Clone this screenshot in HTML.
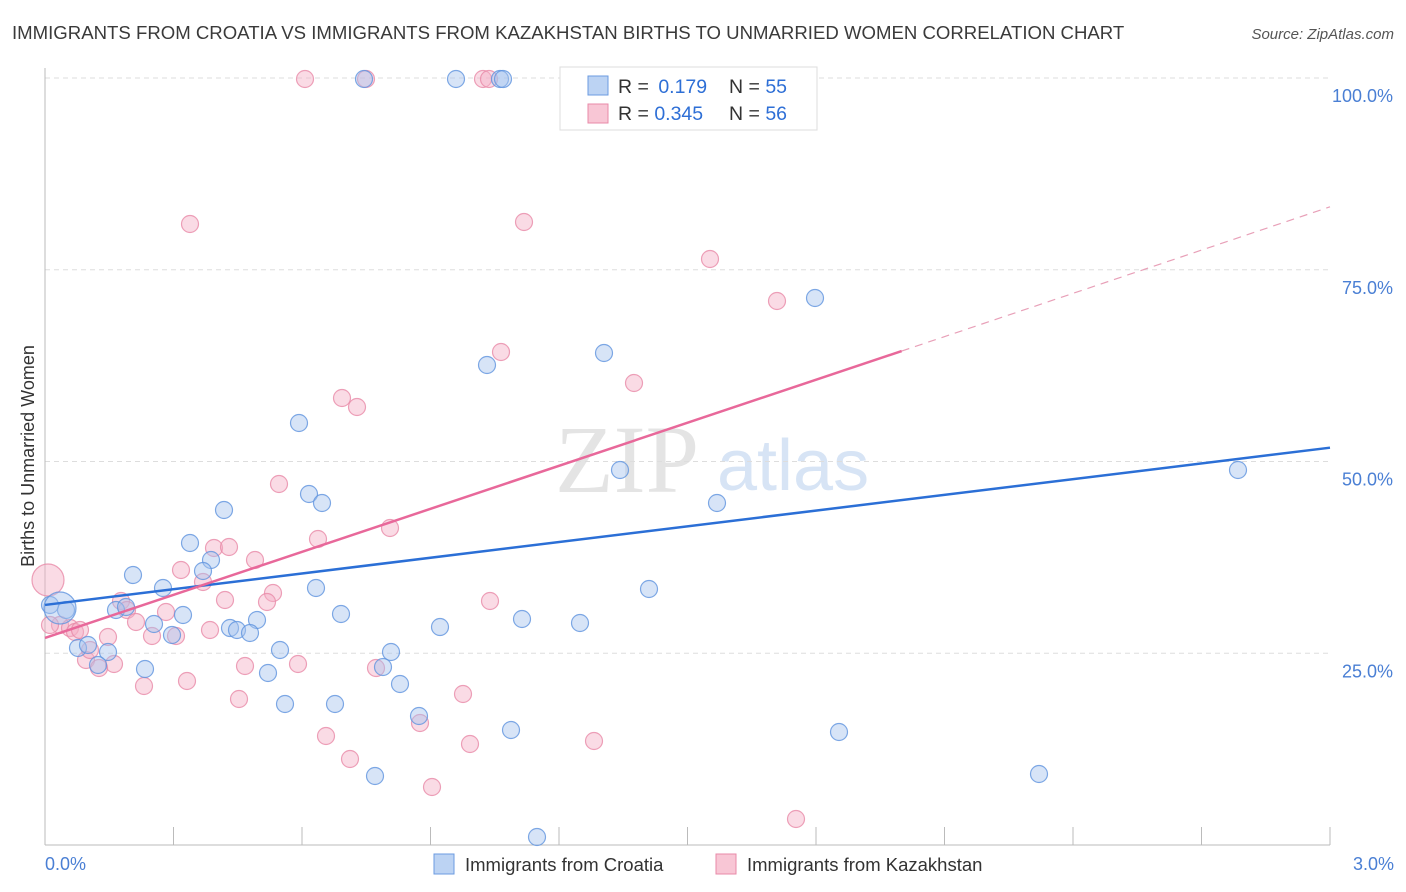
<!DOCTYPE html>
<html><head><meta charset="utf-8"><style>
body{margin:0;background:#fff;font-family:"Liberation Sans",sans-serif;}
#wrap{position:relative;width:1406px;height:892px;overflow:hidden;}
</style></head><body>
<div id="wrap">
<svg id="svg" width="1406" height="892" xmlns="http://www.w3.org/2000/svg">
<text x="12" y="39" font-size="18.6" fill="#3a3a3a">IMMIGRANTS FROM CROATIA VS IMMIGRANTS FROM KAZAKHSTAN BIRTHS TO UNMARRIED WOMEN CORRELATION CHART</text>
<text x="1394" y="39" font-size="15" fill="#555" font-style="italic" text-anchor="end">Source: ZipAtlas.com</text>
<text transform="translate(34,456) rotate(-90)" font-size="18" fill="#333" text-anchor="middle">Births to Unmarried Women</text>
<text x="555" y="492" font-size="96" fill="#e4e4e4" font-family="Liberation Serif,serif">ZIP</text>
<text x="717" y="490" font-size="72" fill="#d7e4f5">atlas</text>
<g id="grid"></g><g id="pts"></g><g id="lines"></g>
<g>
<rect x="560" y="67" width="257" height="63" fill="#fff" stroke="#ddd"/>
<rect x="588" y="76" width="20" height="19" fill="#bcd3f3" stroke="#6b9be0"/>
<rect x="588" y="104" width="20" height="19" fill="#f8c6d5" stroke="#e88aa8"/>
<text x="618" y="93" font-size="19.5" fill="#333">R = <tspan fill="#2e6fd6" dx="4">0.179</tspan></text>
<text x="729" y="93" font-size="19.5" fill="#333">N = <tspan fill="#2e6fd6">55</tspan></text>
<text x="618" y="120" font-size="19.5" fill="#333">R = <tspan fill="#2e6fd6">0.345</tspan></text>
<text x="729" y="120" font-size="19.5" fill="#333">N = <tspan fill="#2e6fd6">56</tspan></text>
</g>
<g>
<rect x="434" y="854" width="20" height="20" fill="#bcd3f3" stroke="#6b9be0"/>
<text x="465" y="871" font-size="18.5" fill="#333">Immigrants from Croatia</text>
<rect x="716" y="854" width="20" height="20" fill="#f8c6d5" stroke="#e88aa8"/>
<text x="747" y="871" font-size="18.5" fill="#333">Immigrants from Kazakhstan</text>
</g>
</svg>
</div>
<script>
const NS="http://www.w3.org/2000/svg";
const yTicks=[25,50,75,100];
const yTickLabels=["25.0%","50.0%","75.0%","100.0%"];
const xTickLabels=["0.0%","3.0%"];
const blueX=[364,456,500,503,815,604,487,299,620,1238,309,322,717,224,190,211,133,203,163,316,649,183,116,126,341,257,230,237,250,154,172,522,580,440,66,50,78,88,108,280,391,98,145,268,383,400,285,335,419,511,839,375,1039,537,60];
const blueY=[79,79,79,79,298,353,365,423,470,470,494,503,503,510,543,560,575,571,588,588,589,615,610,607,614,620,628,630,633,624,635,619,623,627,610,605,648,645,652,650,652,665,669,673,667,684,704,704,716,730,732,776,774,837,608];
const pinkX=[305,366,483,489,190,524,710,777,501,634,342,357,279,318,390,214,229,255,181,203,273,225,267,121,127,490,166,136,152,176,210,108,60,70,75,86,114,99,245,298,376,187,144,463,239,420,326,470,594,350,432,796,48,50,90,80];
const pinkY=[79,79,79,79,224,222,259,301,352,383,398,407,484,539,528,548,547,560,570,582,593,600,602,601,610,601,612,622,636,636,630,637,625,628,632,660,664,668,666,664,668,681,686,694,699,723,736,744,741,759,787,819,580,625,650,630];
const blueData=blueX.map((p,i)=>[(p-45)/1285*3,(845-blueY[i])/7.67]);
const pinkData=pinkX.map((p,i)=>[(p-45)/1285*3,(845-pinkY[i])/7.67]);
const blueLine=[[0,31.3],[3,51.8]];
const pinkLine=[[0,27.0],[2.0,64.4],[3,83.2]];
const sx=v=>45+v/3*1285, sy=v=>845-v*7.67;
function mk(t,a,p){const e=document.createElementNS(NS,t);for(const k in a)e.setAttribute(k,a[k]);p.appendChild(e);return e;}
const grid=document.getElementById('grid');
yTicks.forEach((v,i)=>{
 const l=mk('line',{x1:45,x2:1330,y1:sy(v),y2:sy(v),stroke:'#ddd','stroke-dasharray':'5,4'},grid);
 
 
 const t=mk('text',{x:1393,y:sy(v)+24,'font-size':18,fill:'#4a7fd4','text-anchor':'end'},grid);
 t.textContent=yTickLabels[i];
 
 
});
const ax=mk('line',{x1:45,x2:45,y1:68,y2:845,stroke:'#bbb'},grid);


const bx=mk('line',{x1:45,x2:1330,y1:845,y2:845,stroke:'#bbb'},grid);


for(let i=0;i<=10;i++){const t=mk('line',{x1:sx(i*0.3),x2:sx(i*0.3),y1:827,y2:845,stroke:'#bbb'},grid);
 
 }
[[0,45,'start'],[3,1394,'end']].forEach((d,i)=>{const t=mk('text',{x:d[1],y:870,'font-size':18,fill:'#4a7fd4','text-anchor':d[2]},grid);t.textContent=xTickLabels[i];
 
 });
const pts=document.getElementById('pts');
function drawPts(data,fill,stroke,name,bigIdx){data.forEach((d,i)=>{
 const big=bigIdx.includes(i);
 const c=mk('circle',{cx:sx(d[0]),cy:sy(d[1]),r:big?16:8.5,fill:fill,'fill-opacity':0.45,stroke:stroke,'stroke-opacity':0.8,'stroke-width':1.2},pts);
 
 });}
drawPts(pinkData,'#f5b0c5','#e88aa8','point-kazakhstan',[52]);
drawPts(blueData,'#a6c4ee','#5f93de','point-croatia',[54]);
const lines=document.getElementById('lines');
const bl=mk('line',{x1:sx(blueLine[0][0]),y1:sy(blueLine[0][1]),x2:sx(blueLine[1][0]),y2:sy(blueLine[1][1]),stroke:'#2b6fd6','stroke-width':2.5},lines);


const pl=mk('line',{x1:sx(pinkLine[0][0]),y1:sy(pinkLine[0][1]),x2:sx(pinkLine[1][0]),y2:sy(pinkLine[1][1]),stroke:'#e8689a','stroke-width':2.5},lines);


const pd=mk('line',{x1:sx(pinkLine[1][0]),y1:sy(pinkLine[1][1]),x2:sx(pinkLine[2][0]),y2:sy(pinkLine[2][1]),stroke:'#e8a0b8','stroke-width':1.2,'stroke-dasharray':'8,6'},lines);


</script>
</body></html>
